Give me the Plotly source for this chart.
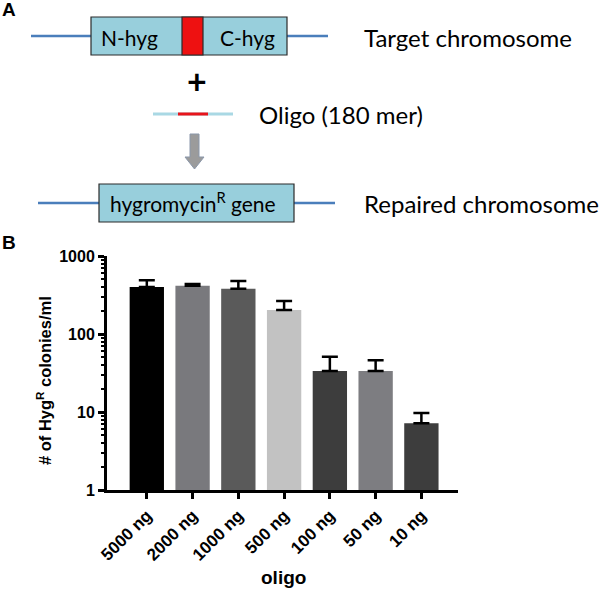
import plotly.graph_objects as go

# ---- data ----
categories = ["5000 ng", "2000 ng", "1000 ng", "500 ng", "100 ng", "50 ng", "10 ng"]
colonies = [400, 415, 380, 203, 33.5, 33.5, 7.2]
err_upper = [90, 21, 97, 62, 17.5, 12.5, 2.5]
bar_colors = ["#000000", "#79797d", "#5a5a5a", "#c2c2c2", "#3d3d3d", "#7d7d81", "#3d3d3d"]
y_tickvals = [1, 10, 100, 1000]
y_ticktext = ["1", "10", "100", "1000"]

W, H = 600, 589
def px(x): return x / W
def py(y): return 1 - y / H

AX_FONT = "Liberation Sans, Arial, sans-serif"
DG_FONT = "Lato, Open Sans, sans-serif"

fig = go.Figure()
fig.add_trace(go.Bar(
    x=categories, y=colonies, width=0.75,
    marker=dict(color=bar_colors, line=dict(width=0)),
    error_y=dict(type="data", symmetric=False, array=err_upper,
                 arrayminus=[0] * len(colonies), color="black",
                 thickness=2.5, width=8),
    showlegend=False,
))

fig.update_layout(
    width=W, height=H,
    margin=dict(l=0, r=0, t=0, b=0),
    paper_bgcolor="white", plot_bgcolor="white",
    bargap=0.25,
    xaxis=dict(domain=[px(107), px(458)], range=[-0.87, 6.8],
               showline=True, linecolor="black", linewidth=3,
               ticks="outside", ticklen=6, tickwidth=2.5, tickcolor="black",
               tickangle=-45, automargin=False, showgrid=False,
               tickfont=dict(family=AX_FONT, size=17, color="black", weight="bold")),
    yaxis=dict(domain=[py(490), py(256)], type="log", range=[0, 3],
               showline=True, linecolor="black", linewidth=3,
               ticks="outside", ticklen=6, tickwidth=2.5, tickcolor="black",
               tickvals=y_tickvals, ticktext=y_ticktext,
               minor=dict(ticks="outside", ticklen=3, tickwidth=1.5, tickcolor="black",
                          tickvals=[m * 10 ** e for e in range(3) for m in range(2, 10)]),
               automargin=False, showgrid=False, zeroline=False,
               tickfont=dict(family=AX_FONT, size=16, color="black", weight="bold")),
)

ann = []
ann.append(dict(x=px(44), y=py(381), text="# of Hyg<sup>R</sup> colonies/ml", textangle=-90,
                font=dict(family=AX_FONT, size=16.5, color="black", weight="bold")))
ann.append(dict(x=px(283), y=py(577), text="oligo",
                font=dict(family=AX_FONT, size=19, color="black", weight="bold")))
ann.append(dict(x=px(8.5), y=py(9), text="A",
                font=dict(family=AX_FONT, size=19, color="black", weight="bold")))
ann.append(dict(x=px(9), y=py(242), text="B",
                font=dict(family=AX_FONT, size=19, color="black", weight="bold")))

# diagram texts
ann.append(dict(x=px(129), y=py(37), text="N-hyg", font=dict(family=DG_FONT, size=21, color="black")))
ann.append(dict(x=px(247), y=py(37), text="C-hyg", font=dict(family=DG_FONT, size=21, color="black")))
ann.append(dict(x=px(362), y=py(37), text="Target chromosome", xanchor="left",
                font=dict(family=DG_FONT, size=24, color="black")))
ann.append(dict(x=px(197), y=py(81), text="<b>+</b>", font=dict(family=DG_FONT, size=34, color="black")))
ann.append(dict(x=px(257), y=py(115), text="Oligo (180 mer)", xanchor="left",
                font=dict(family=DG_FONT, size=24, color="black")))
ann.append(dict(x=px(193), y=py(202), text="hygromycin<sup>R</sup> gene",
                font=dict(family=DG_FONT, size=21, color="black")))
ann.append(dict(x=px(362), y=py(203), text="Repaired chromosome", xanchor="left",
                font=dict(family=DG_FONT, size=24, color="black")))
for a in ann:
    a.update(xref="paper", yref="paper", showarrow=False)
    a.setdefault("xanchor", "center")
    a.setdefault("yanchor", "middle")
fig.update_layout(annotations=ann)

shapes = []
LINE_BLUE = "#4a7ebb"
BOX_FILL = "#98cfdc"
def line(x0, y0, x1, y1, color, w):
    shapes.append(dict(type="line", xref="paper", yref="paper",
                       x0=px(x0), y0=py(y0), x1=px(x1), y1=py(y1),
                       line=dict(color=color, width=w)))
def rect(x0, y0, x1, y1, fill, lc="#2b2b2b", lw=1.2):
    shapes.append(dict(type="rect", xref="paper", yref="paper",
                       x0=px(x0), y0=py(y0), x1=px(x1), y1=py(y1),
                       fillcolor=fill, line=dict(color=lc, width=lw)))

line(31, 36, 91, 36, LINE_BLUE, 2.5)
line(287, 36, 328, 36, LINE_BLUE, 2.5)
rect(91, 17, 287, 55, BOX_FILL)
rect(182, 17, 203, 55, "#ee1111")
line(153, 114, 233, 114, "#a9d8e4", 3)
line(178, 114, 208, 114, "#e8141b", 3)
# arrow
pts = [(190, 134), (199, 134), (199, 157), (204, 157), (194.5, 169), (185, 157), (190, 157)]
path = "M " + " L ".join(f"{px(x)},{py(y)}" for x, y in pts) + " Z"
shapes.append(dict(type="path", xref="paper", yref="paper", path=path,
                   fillcolor="#9b9b9b", line=dict(color="#8a97aa", width=1)))
line(38, 203, 99, 203, LINE_BLUE, 2.5)
line(294, 203, 335, 203, LINE_BLUE, 2.5)
rect(99, 184, 294, 222, BOX_FILL)
fig.update_layout(shapes=shapes)

fig.write_html("out.html", config={"displayModeBar": False},
               post_script="document.body.style.margin='0px';")
